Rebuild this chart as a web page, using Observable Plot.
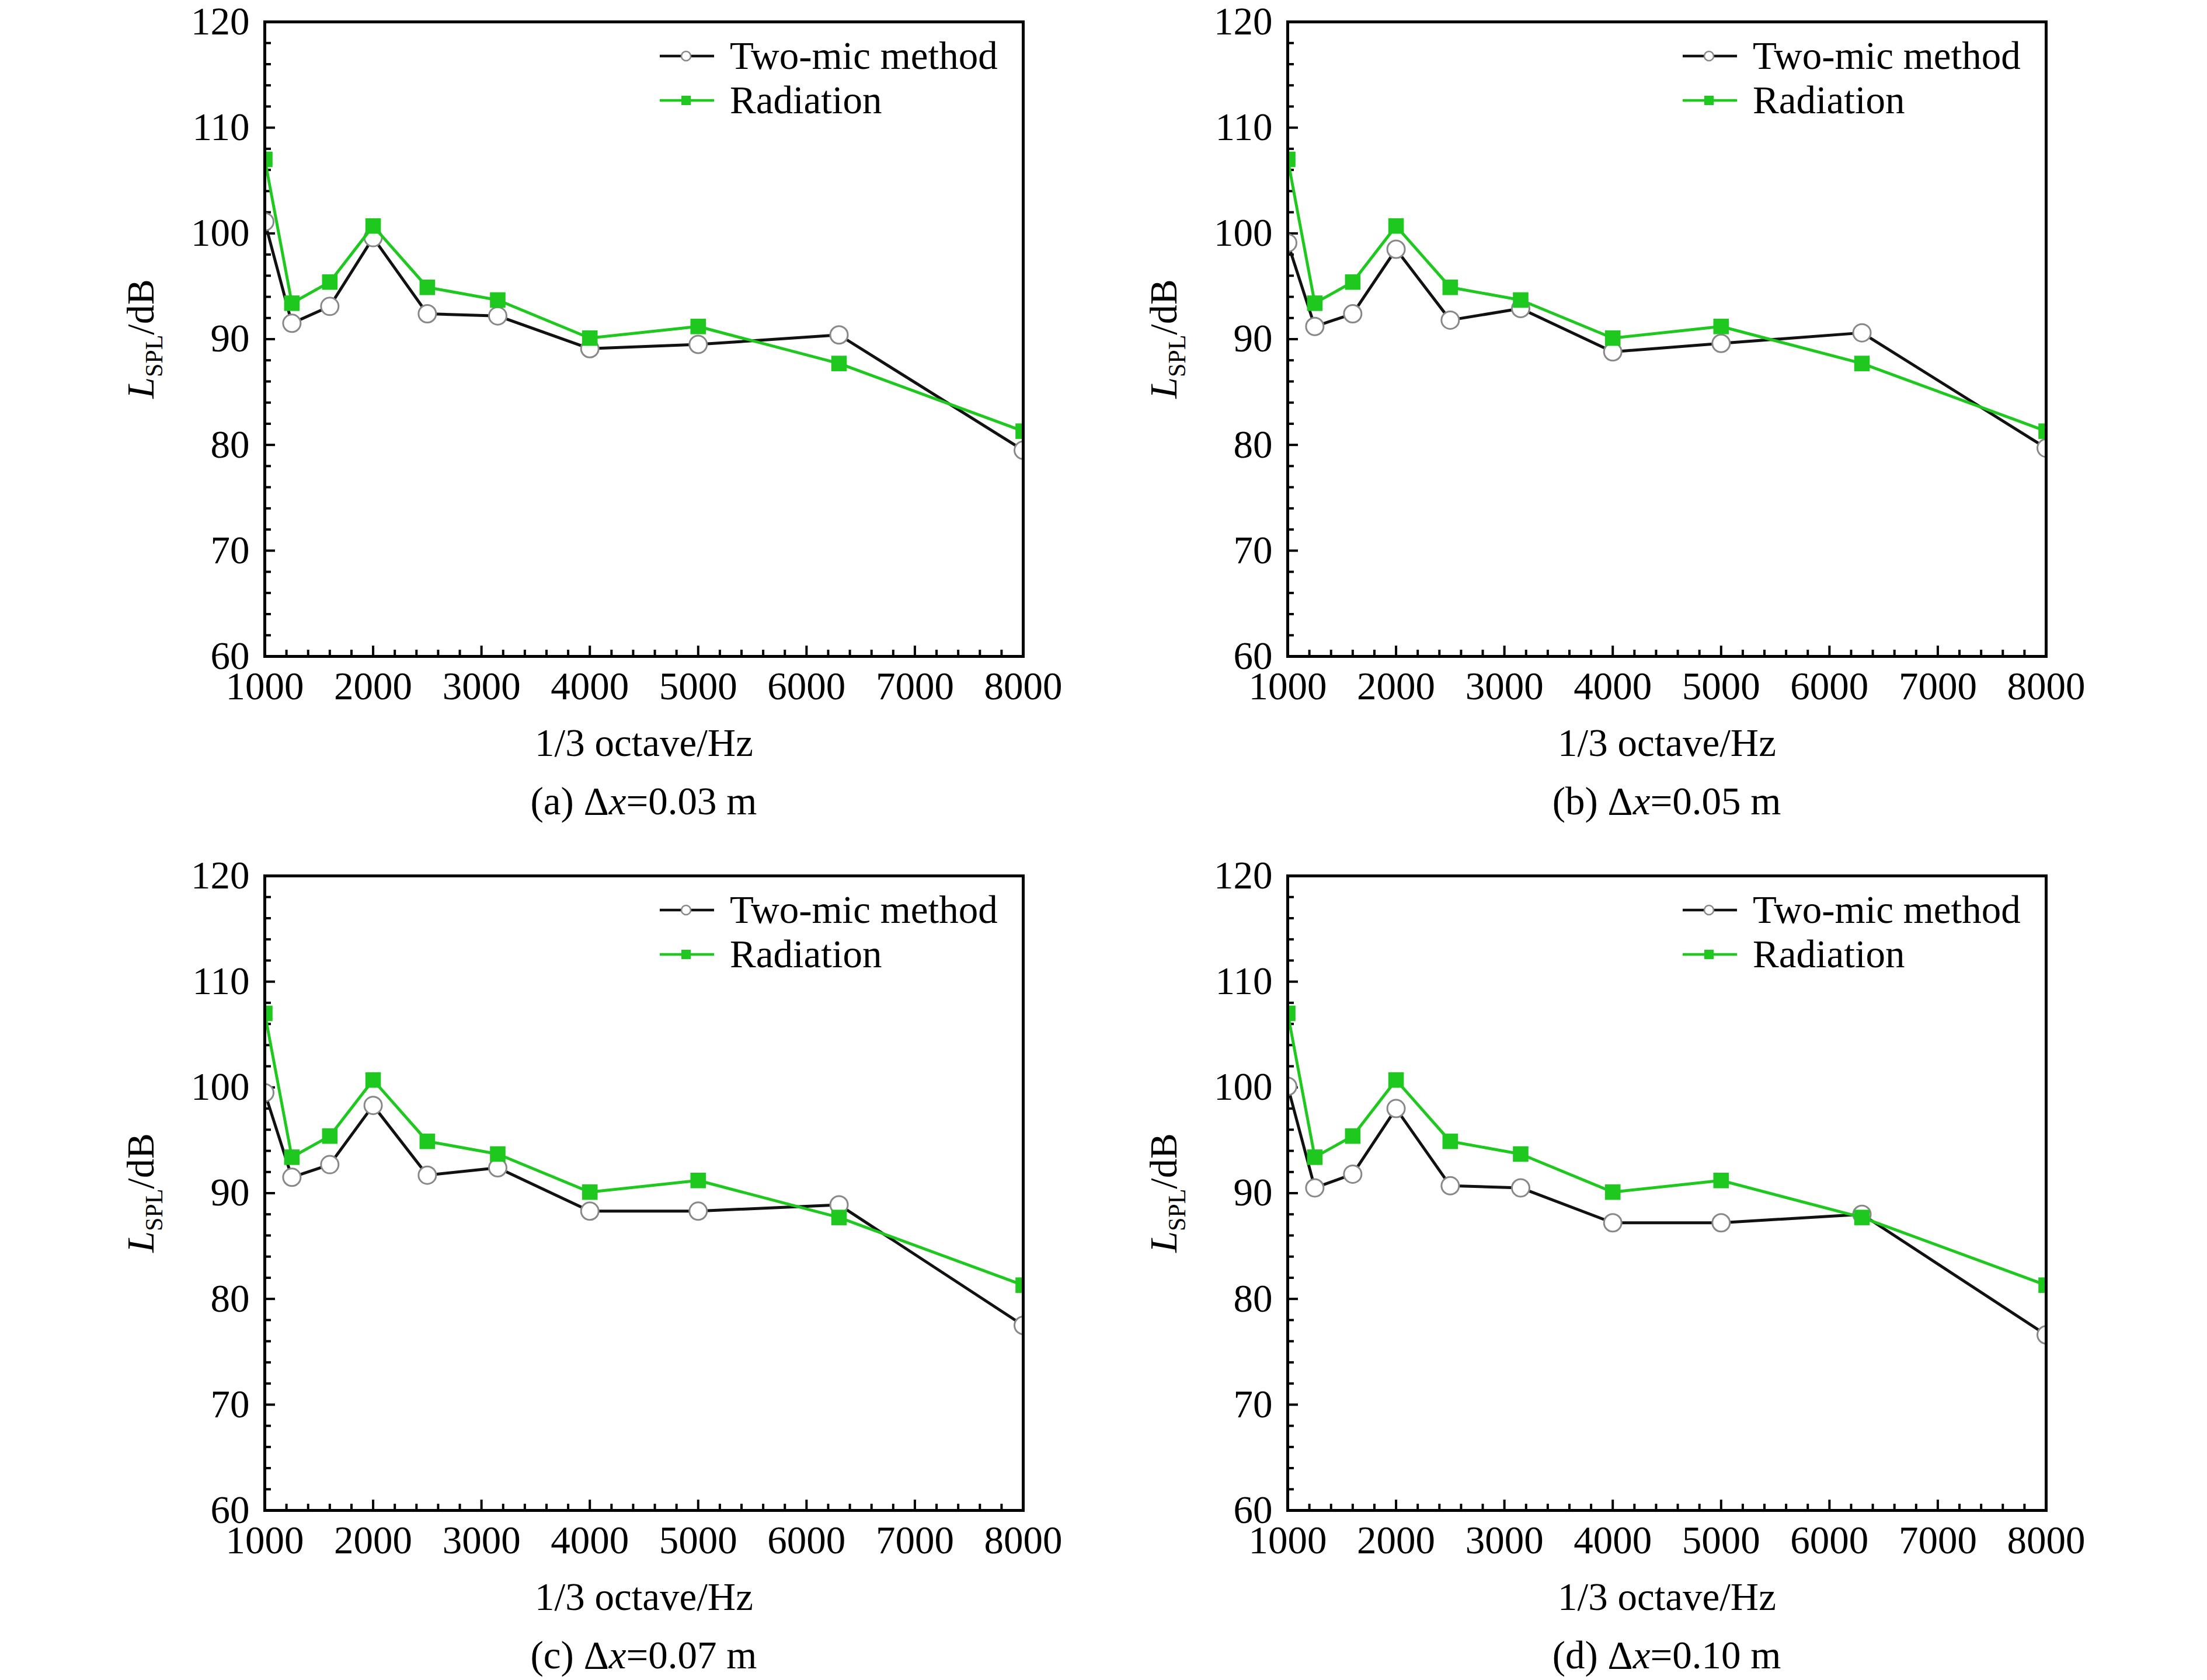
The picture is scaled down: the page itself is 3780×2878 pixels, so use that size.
<!DOCTYPE html>
<html><head><meta charset="utf-8">
<script src="https://cdn.jsdelivr.net/npm/d3@7"></script>
<script src="https://cdn.jsdelivr.net/npm/@observablehq/plot@0.6"></script>
<style>
body{margin:0;background:#fff;}
#wrap{position:relative;width:3780px;height:2878px;background:#fff;overflow:hidden;}
#wrap svg{position:absolute;max-width:none;}
</style></head><body><div id="wrap"></div>
<script>
// ---- data ----
const freqs = [1000, 1250, 1600, 2000, 2500, 3150, 4000, 5000, 6300, 8000];
const twoMicA = [101.1, 91.5, 93.1, 99.6, 92.4, 92.2, 89.1, 89.5, 90.4, 79.5];
const twoMicB = [99.1, 91.2, 92.4, 98.5, 91.8, 92.9, 88.8, 89.6, 90.6, 79.7];
const twoMicC = [99.5, 91.5, 92.7, 98.3, 91.7, 92.4, 88.3, 88.3, 88.9, 77.5];
const twoMicD = [100.1, 90.5, 91.8, 98.0, 90.7, 90.5, 87.2, 87.2, 88.0, 76.6];
const radiation = [107.0, 93.4, 95.4, 100.7, 94.9, 93.7, 90.1, 91.2, 87.7, 81.3];
const panelLetters = ["(a)", "(b)", "(c)", "(d)"];
const panelDx = ["0.03", "0.05", "0.07", "0.10"];
const seriesNames = ["Two-mic method", "Radiation"];
const xTicks = [1000, 2000, 3000, 4000, 5000, 6000, 7000, 8000];
const yTicks = [60, 70, 80, 90, 100, 110, 120];
const xLabel = "1/3 octave/Hz";

// ---- layout ----
const W = 1870, H = 1415, ML = 453, MT = 37, FW = 1299, FH = 1087;
const MR = W - ML - FW, MB = H - MT - FH;
const FONT = "'Liberation Serif', 'Times New Roman', serif";
const FS = 67;
const GREEN = "#1ec81e";
const BLACK = "#111";
const xMinor = d3.range(1000, 8001, 200).filter(v => v % 1000 !== 0);
const yMinor = d3.range(60, 121, 2).filter(v => v % 10 !== 0);

function panel(twoMic, idx) {
  const col = idx % 2, row = Math.floor(idx / 2);
  const tm = freqs.map((f, i) => ({f, v: twoMic[i]}));
  const rad = freqs.map((f, i) => ({f, v: radiation[i]}));
  const tickStyle = {stroke: "#000", strokeWidth: 4};
  const svg = Plot.plot({
    width: W, height: H,
    marginLeft: ML, marginRight: MR, marginTop: MT, marginBottom: MB,
    style: {fontFamily: FONT, fontSize: FS + "px", background: "transparent", color: "#000"},
    x: {domain: [1000, 8000]},
    y: {domain: [60, 120]},
    marks: [
      Plot.ruleY(yMinor, {y: d => d, insetRight: FW - 11, ...tickStyle}),
      Plot.ruleY(yTicks, {y: d => d, insetRight: FW - 18, ...tickStyle}),
      Plot.ruleX(xMinor, {x: d => d, insetTop: FH - 11, ...tickStyle}),
      Plot.ruleX(xTicks, {x: d => d, insetTop: FH - 18, ...tickStyle}),
      Plot.axisY({ticks: yTicks, tickSize: 0, tickPadding: 26, tickFormat: d => `${d}`, label: null, fontSize: FS, fontFamily: FONT}),
      Plot.axisX({ticks: xTicks, tickSize: 0, tickPadding: 26, tickFormat: d => `${d}`, label: null, fontSize: FS, fontFamily: FONT}),
      Plot.line(tm, {x: "f", y: "v", stroke: BLACK, strokeWidth: 5, clip: true}),
      Plot.dot(tm, {x: "f", y: "v", r: 15, fill: "#fff", stroke: "#888", strokeWidth: 3, clip: true}),
      Plot.line(rad, {x: "f", y: "v", stroke: GREEN, strokeWidth: 5, clip: true}),
      Plot.dot(rad, {x: "f", y: "v", r: 15, symbol: "square", fill: GREEN, stroke: "none", clip: true}),
      Plot.text([xLabel], {frameAnchor: "bottom", dy: 149, text: d => d, lineAnchor: "middle", fontSize: FS, fontFamily: FONT}),
      Plot.frame({stroke: "#000", strokeWidth: 5})
    ]
  });
  const s = d3.select(svg);
  // y-axis label L_SPL/dB
  const yl = s.append("text")
    .attr("transform", `translate(263,${MT + FH / 2}) rotate(-90)`)
    .attr("text-anchor", "middle")
    .attr("font-family", FONT).attr("font-size", 66).attr("fill", "#000");
  yl.append("tspan").attr("font-style", "italic").text("L");
  yl.append("tspan").attr("font-size", 42).attr("dy", 15).text("SPL");
  yl.append("tspan").attr("dy", -15).text("/dB");
  // caption
  const cap = s.append("text")
    .attr("x", ML + FW / 2).attr("y", 1395)
    .attr("text-anchor", "middle")
    .attr("font-family", FONT).attr("font-size", FS).attr("fill", "#000");
  cap.append("tspan").text(panelLetters[idx] + " Δ");
  cap.append("tspan").attr("font-style", "italic").text("x");
  cap.append("tspan").text("=" + panelDx[idx] + " m");
  // legend
  const lg = s.append("g").attr("text-anchor", "start");
  const rowsY = [MT + 59, MT + 135];
  const lx0 = ML + 677, lx1 = ML + 770, lxm = ML + 722, ltx = ML + 797;
  lg.append("line").attr("x1", lx0).attr("x2", lx1).attr("y1", rowsY[0]).attr("y2", rowsY[0])
    .attr("stroke", BLACK).attr("stroke-width", 4.5);
  lg.append("circle").attr("cx", lxm).attr("cy", rowsY[0]).attr("r", 8)
    .attr("fill", "#fff").attr("stroke", "#888").attr("stroke-width", 2.5);
  lg.append("line").attr("x1", lx0).attr("x2", lx1).attr("y1", rowsY[1]).attr("y2", rowsY[1])
    .attr("stroke", GREEN).attr("stroke-width", 4.5);
  lg.append("rect").attr("x", lxm - 8).attr("y", rowsY[1] - 8).attr("width", 16).attr("height", 16)
    .attr("fill", GREEN);
  seriesNames.forEach((n, i) => {
    lg.append("text").attr("x", ltx).attr("y", rowsY[i] + 22)
      .attr("text-anchor", "start")
      .attr("font-family", FONT).attr("font-size", FS).attr("fill", "#000").text(n);
  });
  svg.style.left = (col * 1752) + "px";
  svg.style.top = (row * 1463) + "px";
  document.getElementById("wrap").appendChild(svg);
}
[twoMicA, twoMicB, twoMicC, twoMicD].forEach((d, i) => panel(d, i));
</script></body></html>
